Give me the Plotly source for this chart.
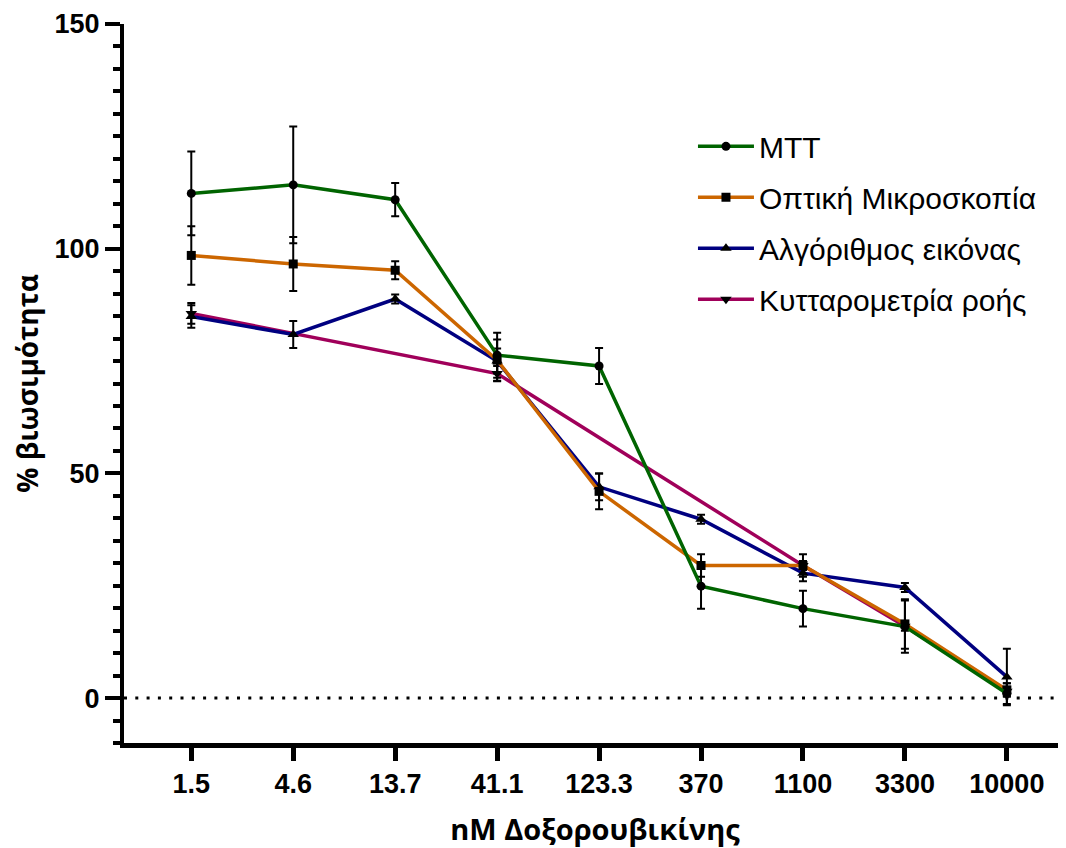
import plotly.graph_objects as go

categories = ["1.5", "4.6", "13.7", "41.1", "123.3", "370", "1100", "3300", "10000"]

mtt = [112.3, 114.2, 110.9, 76.3, 73.9, 24.9, 19.9, 15.9, 1.0]
mtt_err = [9.3, 13.0, 3.7, 5.0, 4.0, 5.0, 4.0, 5.8, 2.3]

opt = [98.5, 96.6, 95.2, 75.2, 46.0, 29.5, 29.5, 16.5, 1.8]
opt_err = [6.5, 6.0, 2.0, 4.6, 4.0, 2.5, 2.5, 5.5, 1.5]

alg = [84.9, 80.9, 88.8, 75.0, 47.0, 39.8, 27.8, 24.6, 4.7]
alg_err = [2.5, 3.0, 1.0, 2.8, 3.0, 1.0, 1.8, 1.0, 6.3]

flow = [85.6, None, None, 72.2, None, None, 29.5, 16.0, 1.5]
flow_err = [2.3, 0, 0, 1.7, 0, 0, 1.0, 1.0, 1.0]

names = ["MTT", "Οπτική Μικροσκοπία", "Αλγόριθμος εικόνας", "Κυτταρομετρία ροής"]
colors = ["#006400", "#CC6600", "#000080", "#A0005A"]
symbols = ["circle", "square", "triangle-up", "triangle-down"]
sizes = [9, 9, 10, 10]
series = [mtt, opt, alg, flow]
errors = [mtt_err, opt_err, alg_err, flow_err]

FONT = "Arial, Liberation Sans, sans-serif"
TITLE_FONT = "Open Sans, sans-serif"

fig = go.Figure()
# draw bottom-to-top: flow, alg, opt, mtt
for i in [3, 2, 1, 0]:
    fig.add_trace(go.Scatter(
        x=categories, y=series[i], name=names[i],
        mode="lines+markers", connectgaps=True,
        line=dict(color=colors[i], width=3.5),
        marker=dict(color="black", symbol=symbols[i], size=sizes[i]),
        error_y=dict(type="data", array=errors[i], visible=True,
                     color="black", thickness=2, width=4),
        legendrank=i + 1, legendgroup=f"g{i}",
    ))

fig.add_shape(type="line", xref="paper", yref="y", x0=0, x1=1, y0=0, y1=0,
              line=dict(color="black", width=3, dash="3px,8.3px"), layer="below")

fig.update_layout(
    width=1058, height=840,
    margin=dict(l=116, r=0, t=16, b=98),
    paper_bgcolor="white", plot_bgcolor="white",
    font=dict(family=FONT, color="black"),
    showlegend=True,
    legend=dict(x=0.604, y=0.866, xanchor="left", yanchor="top",
                font=dict(size=30, family=FONT, color="black"),
                itemwidth=56,
                tracegroupgap=9, bgcolor="rgba(0,0,0,0)"),
    xaxis=dict(
        type="category", range=[-0.66, 8.58],
        showline=True, linecolor="black", linewidth=5,
        ticks="outside", ticklen=13, tickwidth=5, tickcolor="black",
        tickfont=dict(size=27, family=FONT, color="black", weight="bold"),
        showgrid=False, zeroline=False,
        title=dict(text="<b>nM Δοξορουβικίνης</b>", font=dict(size=29, family=TITLE_FONT, color="black"),
                   standoff=28),
    ),
    yaxis=dict(
        range=[-10, 150], tickvals=[0, 50, 100, 150],
        showline=True, linecolor="black", linewidth=4,
        ticks="outside", ticklen=15, tickwidth=4, tickcolor="black",
        tickfont=dict(size=27, family=FONT, color="black", weight="bold"),
        minor=dict(dtick=5, tick0=0, ticks="outside", ticklen=7, tickwidth=4, tickcolor="black", showgrid=False),
        showgrid=False, zeroline=False,
        title=dict(text="<b>% βιωσιμότητα</b>", font=dict(size=28, family=TITLE_FONT, color="black"),
                   standoff=22),
    ),
)

fig.write_html("out.html")
